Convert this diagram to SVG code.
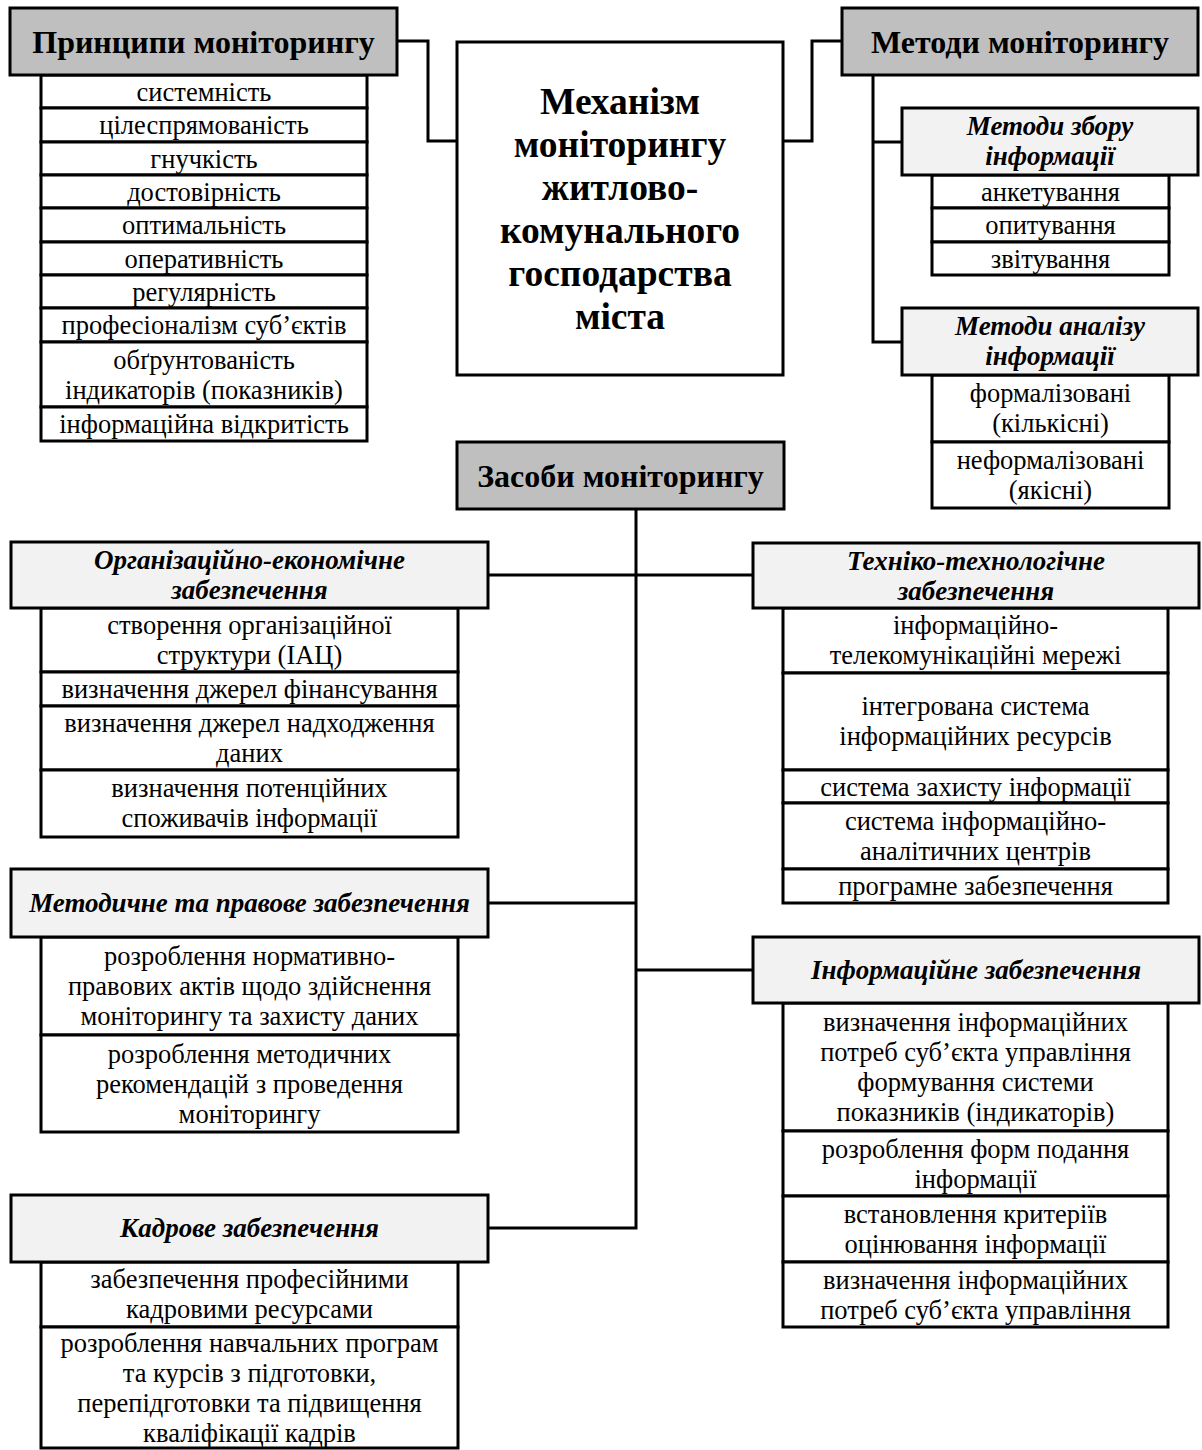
<svg xmlns="http://www.w3.org/2000/svg" width="1202" height="1450" viewBox="0 0 1202 1450">
<style>
  .bg { fill: #ffffff; }
  .hd { fill: #bfbfbf; stroke: #000; stroke-width: 3; }
  .sh { fill: #f2f2f2; stroke: #000; stroke-width: 3; }
  .it { fill: #ffffff; stroke: #000; stroke-width: 3; }
  .mb { fill: #ffffff; stroke: #000; stroke-width: 3; }
  .cn { fill: none; stroke: #000; stroke-width: 3; }
  text { font-family: "Liberation Serif", "Times New Roman", serif; fill: #000; text-anchor: middle; }
  .th { font-size: 32px; font-weight: bold; }
  .tm { font-size: 37.5px; font-weight: bold; }
  .ts { font-size: 27px; font-weight: bold; font-style: italic; }
  .ti { font-size: 26.5px; }
</style>
<rect class="bg" x="0" y="0" width="1202" height="1450"/>

<g id="connectors">
  <path class="cn" d="M397,41 H428 V141 H457"/>
  <path class="cn" d="M783,141 H812 V41 H842"/>
  <path class="cn" d="M873,75 V342 H902"/>
  <path class="cn" d="M873,142 H902"/>
  <path class="cn" d="M636,509 V1228 H488"/>
  <path class="cn" d="M488,575 H753"/>
  <path class="cn" d="M488,903 H636"/>
  <path class="cn" d="M636,970 H753"/>
</g>

<g id="main">
  <rect class="mb" x="457" y="42" width="326" height="333"/>
  <text class="tm" x="620" y="114">Механізм</text>
  <text class="tm" x="620" y="157">моніторингу</text>
  <text class="tm" x="620" y="200">житлово-</text>
  <text class="tm" x="620" y="243">комунального</text>
  <text class="tm" x="620" y="286">господарства</text>
  <text class="tm" x="620" y="329">міста</text>
</g>

<g id="principles">
  <rect class="it" x="41" y="75" width="326" height="33"/>
  <rect class="it" x="41" y="108" width="326" height="34"/>
  <rect class="it" x="41" y="142" width="326" height="33"/>
  <rect class="it" x="41" y="175" width="326" height="33"/>
  <rect class="it" x="41" y="208" width="326" height="34"/>
  <rect class="it" x="41" y="242" width="326" height="33"/>
  <rect class="it" x="41" y="275" width="326" height="33"/>
  <rect class="it" x="41" y="308" width="326" height="34"/>
  <rect class="it" x="41" y="342" width="326" height="65"/>
  <rect class="it" x="41" y="407" width="326" height="34"/>
  <rect class="hd" x="10" y="8" width="387" height="67"/>
  <text class="th" x="203.5" y="53">Принципи моніторингу</text>
  <text class="ti" x="204" y="101">системність</text>
  <text class="ti" x="204" y="134">цілеспрямованість</text>
  <text class="ti" x="204" y="168">гнучкість</text>
  <text class="ti" x="204" y="201">достовірність</text>
  <text class="ti" x="204" y="234">оптимальність</text>
  <text class="ti" x="204" y="268">оперативність</text>
  <text class="ti" x="204" y="301">регулярність</text>
  <text class="ti" x="204" y="334">професіоналізм суб’єктів</text>
  <text class="ti" x="204" y="369">обґрунтованість</text>
  <text class="ti" x="204" y="399">індикаторів (показників)</text>
  <text class="ti" x="204" y="433">інформаційна відкритість</text>
</g>

<g id="methods">
  <rect class="hd" x="842" y="8" width="356" height="67"/>
  <text class="th" x="1020" y="53">Методи моніторингу</text>
</g>

<g id="collect">
  <rect class="it" x="932" y="175" width="237" height="33"/>
  <rect class="it" x="932" y="208" width="237" height="34"/>
  <rect class="it" x="932" y="242" width="237" height="33"/>
  <rect class="sh" x="902" y="108" width="296" height="67"/>
  <text class="ts" x="1050" y="135">Методи збору</text>
  <text class="ts" x="1050" y="165">інформації</text>
  <text class="ti" x="1050.5" y="201">анкетування</text>
  <text class="ti" x="1050.5" y="234">опитування</text>
  <text class="ti" x="1050.5" y="268">звітування</text>
</g>

<g id="analysis">
  <rect class="it" x="932" y="375" width="237" height="67"/>
  <rect class="it" x="932" y="442" width="237" height="66"/>
  <rect class="sh" x="902" y="308" width="296" height="67"/>
  <text class="ts" x="1050" y="335">Методи аналізу</text>
  <text class="ts" x="1050" y="365">інформації</text>
  <text class="ti" x="1050.5" y="402">формалізовані</text>
  <text class="ti" x="1050.5" y="432">(кількісні)</text>
  <text class="ti" x="1050.5" y="469">неформалізовані</text>
  <text class="ti" x="1050.5" y="499">(якісні)</text>
</g>

<g id="means">
  <rect class="hd" x="457" y="442" width="327" height="67"/>
  <text class="th" x="620.5" y="487">Засоби моніторингу</text>
</g>

<g id="org">
  <rect class="it" x="41" y="608" width="417" height="64"/>
  <rect class="it" x="41" y="672" width="417" height="34"/>
  <rect class="it" x="41" y="706" width="417" height="64"/>
  <rect class="it" x="41" y="770" width="417" height="67"/>
  <rect class="sh" x="11" y="542" width="477" height="66"/>
  <text class="ts" x="249.5" y="569">Організаційно-економічне</text>
  <text class="ts" x="249.5" y="599">забезпечення</text>
  <text class="ti" x="249.5" y="634">створення організаційної</text>
  <text class="ti" x="249.5" y="664">структури (ІАЦ)</text>
  <text class="ti" x="249.5" y="698">визначення джерел фінансування</text>
  <text class="ti" x="249.5" y="732">визначення джерел надходження</text>
  <text class="ti" x="249.5" y="762">даних</text>
  <text class="ti" x="249.5" y="797">визначення потенційних</text>
  <text class="ti" x="249.5" y="827">споживачів інформації</text>
</g>

<g id="tech">
  <rect class="it" x="783" y="608" width="385" height="65"/>
  <rect class="it" x="783" y="673" width="385" height="97"/>
  <rect class="it" x="783" y="770" width="385" height="33"/>
  <rect class="it" x="783" y="803" width="385" height="66"/>
  <rect class="it" x="783" y="869" width="385" height="34"/>
  <rect class="sh" x="753" y="543" width="446" height="65"/>
  <text class="ts" x="976" y="570">Техніко-технологічне</text>
  <text class="ts" x="976" y="600">забезпечення</text>
  <text class="ti" x="975.5" y="634">інформаційно-</text>
  <text class="ti" x="975.5" y="664">телекомунікаційні мережі</text>
  <text class="ti" x="975.5" y="715">інтегрована система</text>
  <text class="ti" x="975.5" y="745">інформаційних ресурсів</text>
  <text class="ti" x="975.5" y="796">система захисту інформації</text>
  <text class="ti" x="975.5" y="830">система інформаційно-</text>
  <text class="ti" x="975.5" y="860">аналітичних центрів</text>
  <text class="ti" x="975.5" y="895">програмне забезпечення</text>
</g>

<g id="method-legal">
  <rect class="it" x="41" y="937" width="417" height="98"/>
  <rect class="it" x="41" y="1035" width="417" height="97"/>
  <rect class="sh" x="11" y="869" width="477" height="68"/>
  <text class="ts" x="249.5" y="912">Методичне та правове забезпечення</text>
  <text class="ti" x="249.5" y="965">розроблення нормативно-</text>
  <text class="ti" x="249.5" y="995">правових актів щодо здійснення</text>
  <text class="ti" x="249.5" y="1025">моніторингу та захисту даних</text>
  <text class="ti" x="249.5" y="1063">розроблення методичних</text>
  <text class="ti" x="249.5" y="1093">рекомендацій з проведення</text>
  <text class="ti" x="249.5" y="1123">моніторингу</text>
</g>

<g id="info">
  <rect class="it" x="783" y="1003" width="385" height="128"/>
  <rect class="it" x="783" y="1131" width="385" height="65"/>
  <rect class="it" x="783" y="1196" width="385" height="66"/>
  <rect class="it" x="783" y="1262" width="385" height="65"/>
  <rect class="sh" x="753" y="937" width="446" height="66"/>
  <text class="ts" x="976" y="979">Інформаційне забезпечення</text>
  <text class="ti" x="975.5" y="1031">визначення інформаційних</text>
  <text class="ti" x="975.5" y="1061">потреб суб’єкта управління</text>
  <text class="ti" x="975.5" y="1091">формування системи</text>
  <text class="ti" x="975.5" y="1121">показників (індикаторів)</text>
  <text class="ti" x="975.5" y="1158">розроблення форм подання</text>
  <text class="ti" x="975.5" y="1188">інформації</text>
  <text class="ti" x="975.5" y="1223">встановлення критеріїв</text>
  <text class="ti" x="975.5" y="1253">оцінювання інформації</text>
  <text class="ti" x="975.5" y="1289">визначення інформаційних</text>
  <text class="ti" x="975.5" y="1319">потреб суб’єкта управління</text>
</g>

<g id="staff">
  <rect class="it" x="41" y="1262" width="417" height="65"/>
  <rect class="it" x="41" y="1327" width="417" height="121"/>
  <rect class="sh" x="11" y="1195" width="477" height="67"/>
  <text class="ts" x="249.5" y="1237">Кадрове забезпечення</text>
  <text class="ti" x="249.5" y="1288">забезпечення професійними</text>
  <text class="ti" x="249.5" y="1318">кадровими ресурсами</text>
  <text class="ti" x="249.5" y="1352">розроблення навчальних програм</text>
  <text class="ti" x="249.5" y="1382">та курсів з підготовки,</text>
  <text class="ti" x="249.5" y="1412">перепідготовки та підвищення</text>
  <text class="ti" x="249.5" y="1442">кваліфікації кадрів</text>
</g>
</svg>
